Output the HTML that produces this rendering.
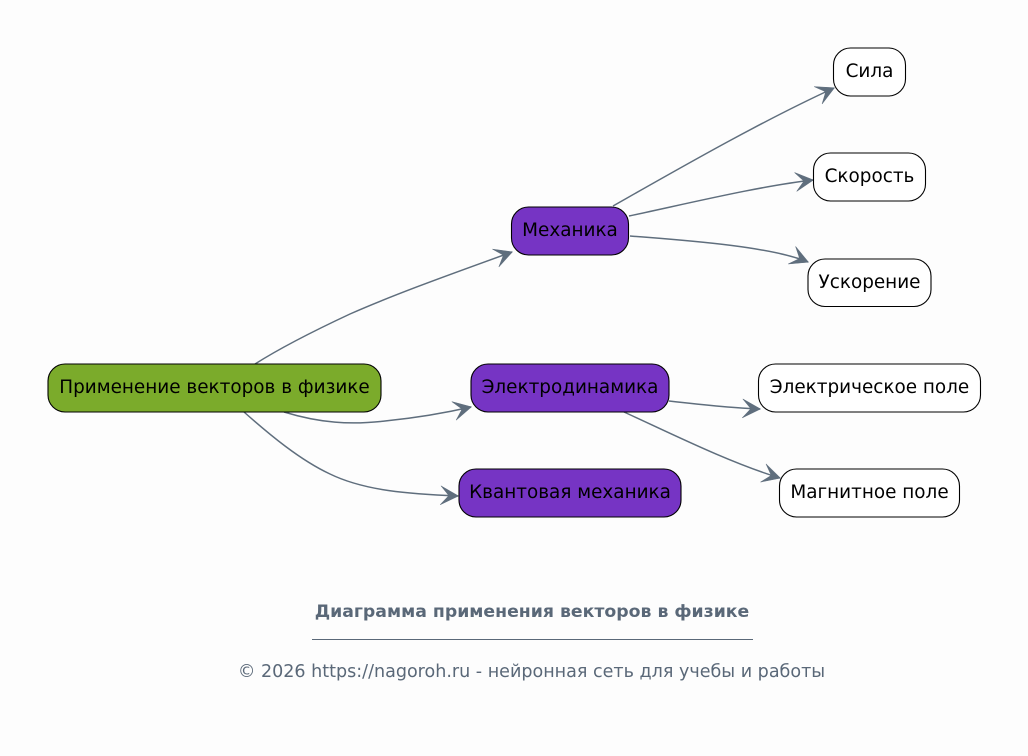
<!DOCTYPE html>
<html><head><meta charset="utf-8"><style>
html,body{margin:0;padding:0;background:#fdfdfd}
svg{display:block}
text{font-family:"DejaVu Sans",sans-serif}
.n text{font-size:18.4px;fill:#000;text-anchor:middle}
.n rect{stroke:#000;stroke-width:1.1}
.e path{fill:none;stroke:#5f6e7d;stroke-width:1.5}
</style></head><body>
<svg width="1028" height="756" viewBox="0 0 1028 756" xmlns="http://www.w3.org/2000/svg">
<defs><marker id="a" markerUnits="userSpaceOnUse" markerWidth="24" markerHeight="24" refX="20" refY="12" orient="auto"><path d="M20.500,12 L2.500,2.500 L10,11 L10,13 L2.500,21.500 Z" fill="#5f6e7d" stroke="#5f6e7d" stroke-width="0.5"/></marker></defs>
<rect width="1028" height="756" fill="#fdfdfd"/>
<g class="e">
<path marker-end="url(#a)" d="M255,364 C285,345 320,328 350,314 C400,292 460,271 512,252"/>
<path marker-end="url(#a)" d="M284,412 C320,423 350,425 385,421 C415,418 445,413 471,407"/>
<path marker-end="url(#a)" d="M244,412 C270,435 300,460 330,474 C365,491 410,494 458,496"/>
<path marker-end="url(#a)" d="M613,206 C680,168 760,122 834,88"/>
<path marker-end="url(#a)" d="M629,216 C690,203 760,186 813,180"/>
<path marker-end="url(#a)" d="M630,236 C680,240 770,246 808,262"/>
<path marker-end="url(#a)" d="M669,401 C695,404 730,408 760,409"/>
<path marker-end="url(#a)" d="M624,412 C670,433 730,463 780,478"/>
</g>
<g class="n">
<rect x="48" y="364" width="333" height="48" rx="17" fill="#7bab2b"/><text x="214.5" y="393">Применение векторов в физике</text>
<rect x="511.500" y="207" width="117" height="48" rx="17" fill="#7634c4"/><text x="570" y="236">Механика</text>
<rect x="471" y="364" width="198" height="48" rx="17" fill="#7634c4"/><text x="570" y="393">Электродинамика</text>
<rect x="459" y="469" width="222" height="48" rx="17" fill="#7634c4"/><text x="570" y="498">Квантовая механика</text>
<rect x="833.500" y="48" width="72" height="48" rx="17" fill="#fff"/><text x="869.500" y="77">Сила</text>
<rect x="813.500" y="153" width="112" height="48" rx="17" fill="#fff"/><text x="869.500" y="182">Скорость</text>
<rect x="808" y="259" width="123" height="47.500" rx="17" fill="#fff"/><text x="869.500" y="288">Ускорение</text>
<rect x="758.500" y="364" width="222" height="48" rx="17" fill="#fff"/><text x="869.500" y="393">Электрическое поле</text>
<rect x="779.500" y="469" width="180" height="48" rx="17" fill="#fff"/><text x="869.500" y="498">Магнитное поле</text>
</g>
<text x="532" y="617" text-anchor="middle" font-size="17.3" font-weight="bold" fill="#5a6878">Диаграмма применения векторов в физике</text>
<line x1="312" y1="639.500" x2="753" y2="639.500" stroke="#5a6878" stroke-width="1"/>
<text x="531.500" y="677" text-anchor="middle" font-size="17.55" fill="#5a6878">© 2026 https://nagoroh.ru - нейронная сеть для учебы и работы</text>
</svg>
</body></html>
